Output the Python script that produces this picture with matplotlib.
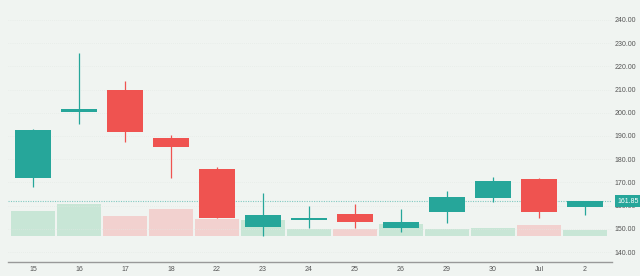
import matplotlib
matplotlib.use("Agg")
import matplotlib.pyplot as plt
import numpy as np

# ─── Data ────────────────────────────────────────────────────────────────────
labels = ["15", "16", "17", "18", "22", "23", "24", "25", "26", "29", "30", "Jul", "2"]
opens  = [172.0, 200.5, 210.0, 189.2, 175.8, 151.0, 154.0, 156.4, 150.5, 157.1, 163.1, 171.5, 159.6]
highs  = [193.0, 225.8, 213.7, 190.4, 176.6, 165.4, 160.0, 160.6, 158.5, 166.3, 172.5, 171.9, 162.1]
lows   = [168.0, 195.2, 187.4, 171.9, 154.7, 147.0, 150.5, 150.3, 148.7, 152.6, 161.4, 154.8, 156.0]
closes = [192.6, 201.6, 191.7, 185.3, 154.7, 156.0, 154.5, 152.8, 153.0, 163.8, 170.6, 157.4, 161.85]
volume = [25.0, 32.4, 20.0, 27.0, 17.0, 16.0, 7.4, 7.0, 12.4, 7.4, 8.0, 11.0, 6.0]
yticks = [140, 150, 160, 170, 180, 190, 200, 210, 220, 230, 240]
last_price = 161.85

UP = "#26a69a"
DOWN = "#ef5350"
UP_VOL = "#c8e6d6"
DOWN_VOL = "#f2d1cf"
BG = "#f0f4f1"
FONT = "Liberation Sans"

fig = plt.figure(figsize=(6.4, 2.76), dpi=100, facecolor=BG)
ax = fig.add_axes([0.0125, 0.0507, 0.944, 0.9493])
ax.set_facecolor(BG)

x = np.arange(len(labels))
up = [c >= o for o, c in zip(opens, closes)]

# Volume on a twin axis, drawn underneath
axv = ax.twinx()
axv.set_zorder(0)
ax.set_zorder(1)
ax.patch.set_visible(False)
axv.set_facecolor(BG)
axv.bar(x, volume, width=0.96, bottom=0,
        color=[UP_VOL if u else DOWN_VOL for u in up], linewidth=0)
axv.set_ylim(-26, 236)
axv.axis("off")

# Candles
for i in range(len(labels)):
    col = UP if up[i] else DOWN
    ax.vlines(x[i], lows[i], highs[i], color=col, linewidth=0.9, zorder=3)
    lo, hi = min(opens[i], closes[i]), max(opens[i], closes[i])
    h = max(hi - lo, 0.6)
    ax.bar(x[i], h, bottom=lo, width=0.78, color=col, linewidth=0, zorder=4)

# Last price line + tag
ax.axhline(last_price, color=UP, linewidth=0.8, linestyle=(0, (1, 1.2)), alpha=0.55, zorder=2)
ax.text(1.008, last_price, f"{last_price:.2f}", transform=ax.get_yaxis_transform(),
        fontsize=5, family=FONT, color="white", ha="left", va="center",
        clip_on=False, zorder=6,
        bbox=dict(boxstyle="square,pad=0.35", facecolor=UP, edgecolor="none"))

# Faint grid
ax.yaxis.grid(True, color="#e2e8e4", linewidth=0.5, linestyle=(0, (1, 2)))
ax.set_axisbelow(True)

ax.set_xlim(-0.543, 12.59)
ax.set_ylim(135.7, 248.6)
ax.set_xticks(x)
ax.set_xticklabels(labels, family=FONT)
ax.set_yticks(yticks)
ax.set_yticklabels([f"{v:.2f}" for v in yticks], family=FONT, ha="right")
ax.yaxis.tick_right()
ax.tick_params(axis="both", length=0, labelsize=5, labelcolor="#555555")
ax.tick_params(axis="y", pad=17)
ax.tick_params(axis="x", pad=3)

for s in ["top", "right", "left"]:
    ax.spines[s].set_visible(False)
ax.spines["bottom"].set_color("#999999")
ax.spines["bottom"].set_linewidth(1.0)

fig.savefig("out.png", dpi=100, facecolor=BG)
